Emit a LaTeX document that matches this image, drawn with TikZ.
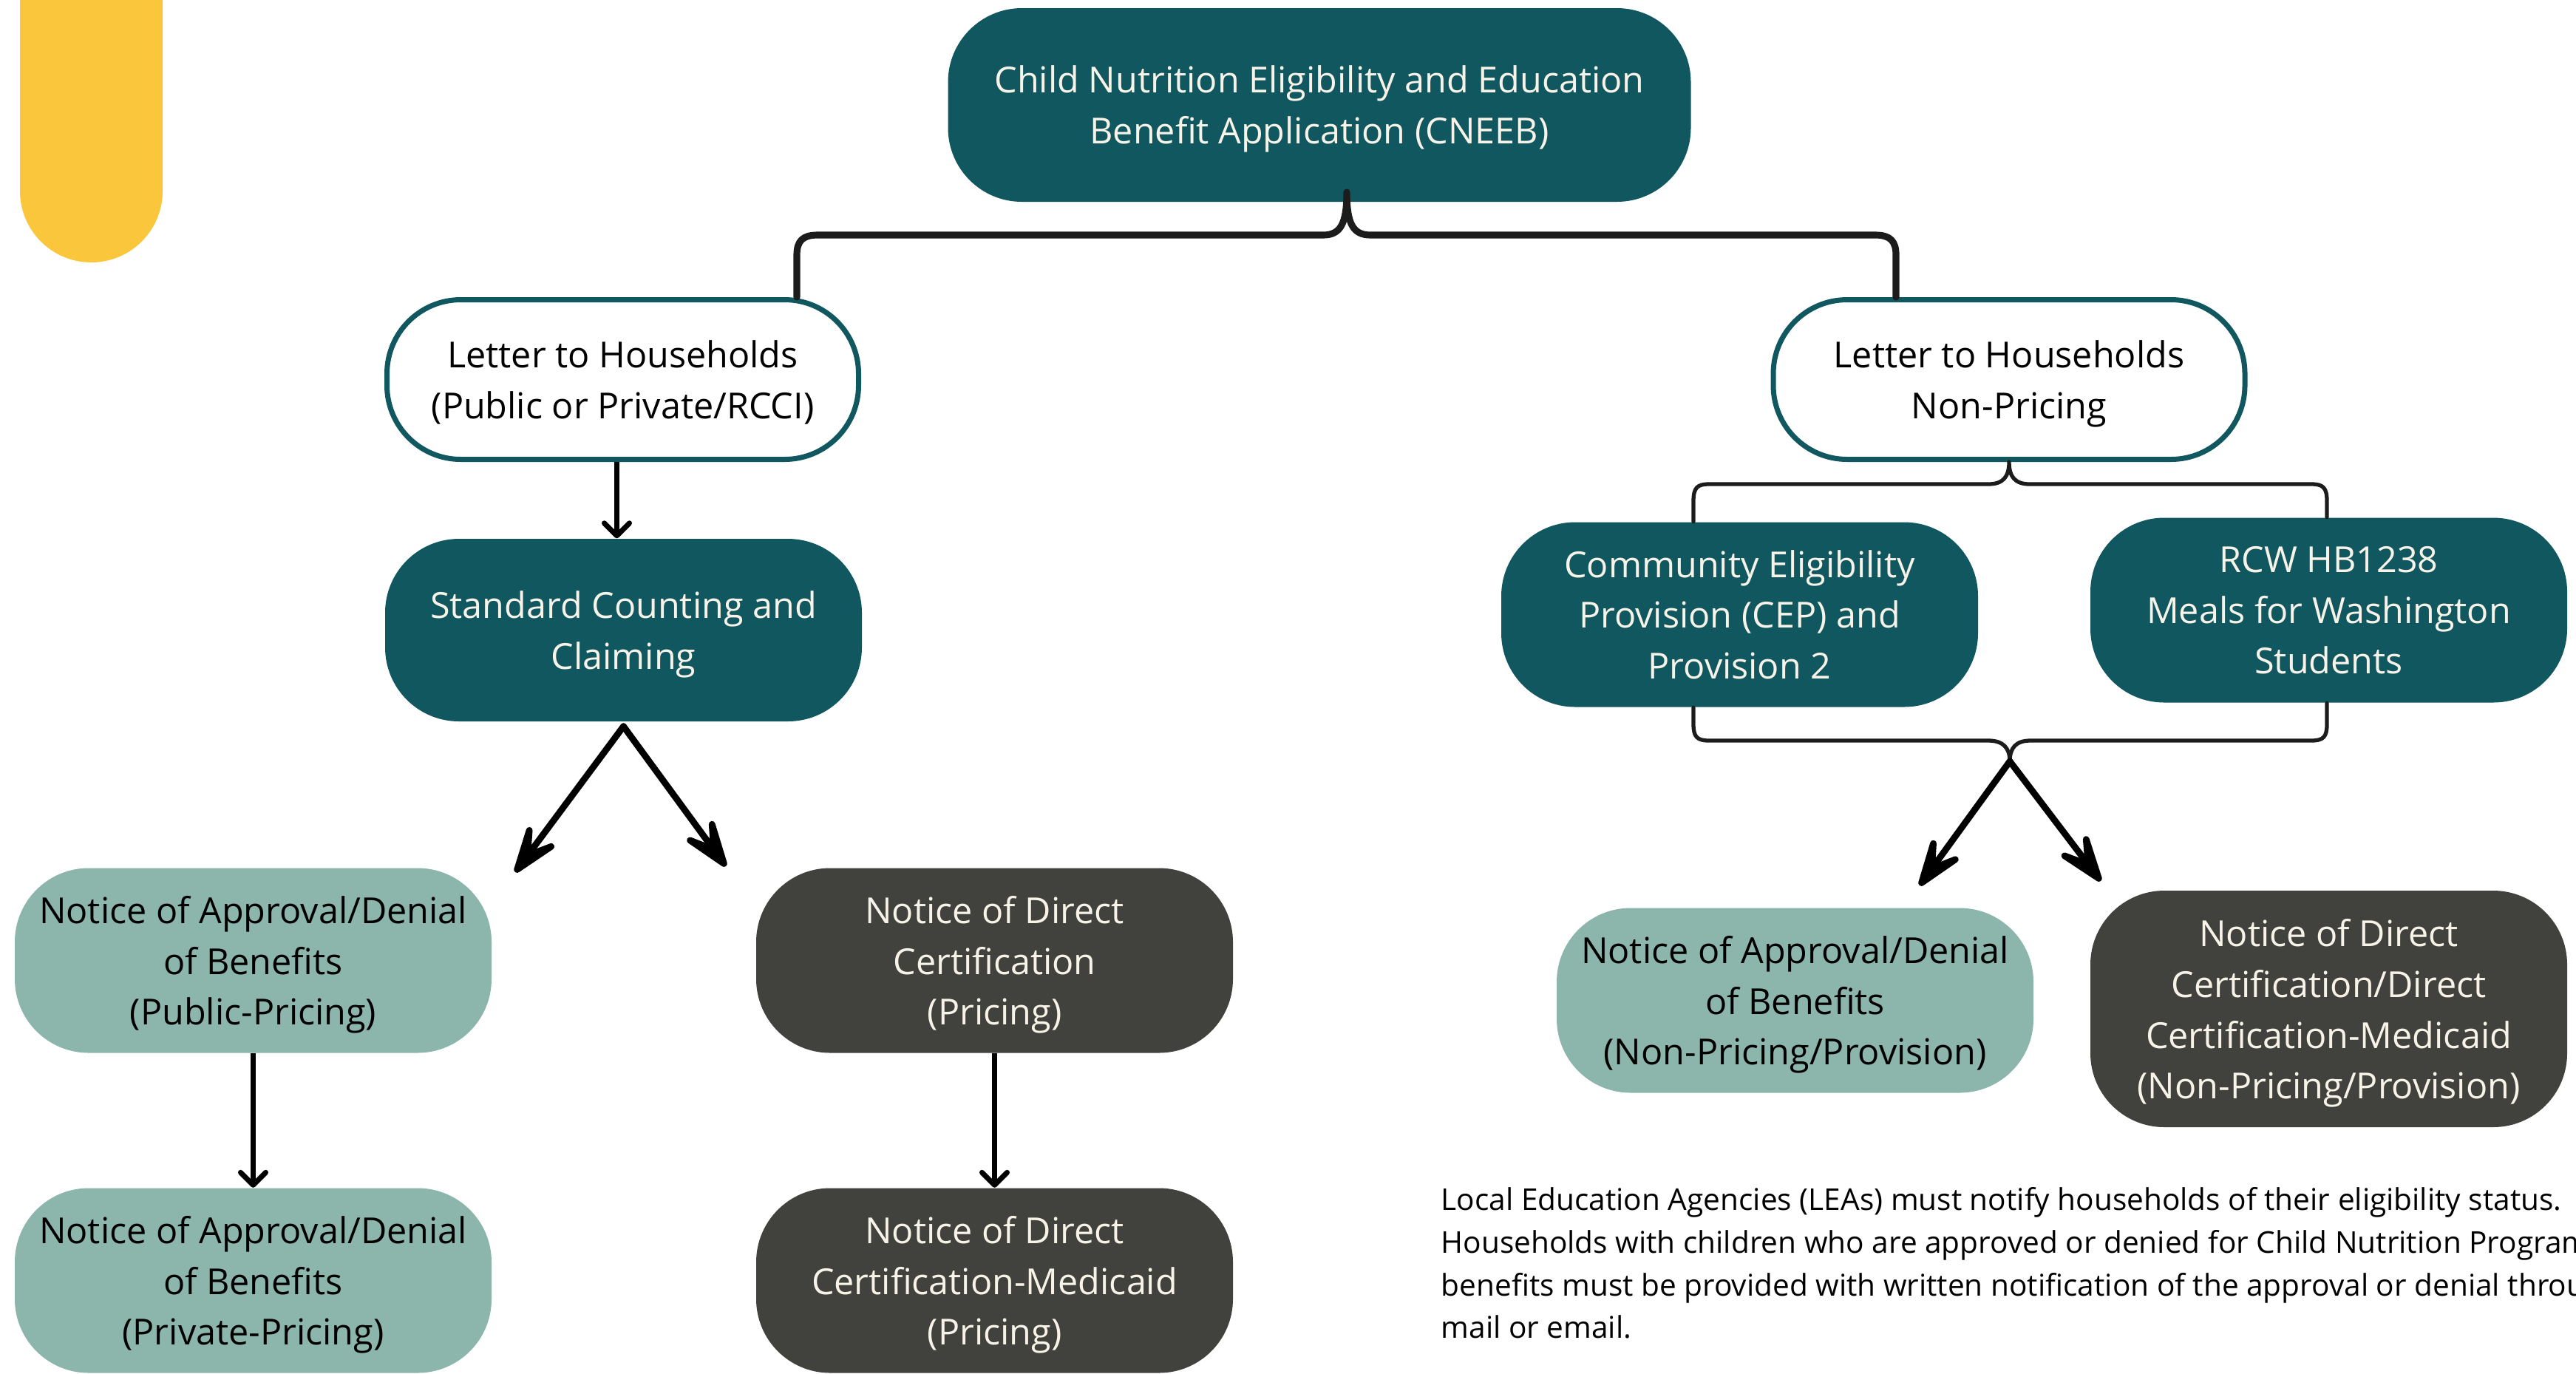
\documentclass[tikz,border=0pt]{standalone}
\usepackage{fontspec}
\setmainfont{Open Sans}
\usetikzlibrary{arrows.meta}
\definecolor{cneebteal}{HTML}{10575F}
\definecolor{sage}{HTML}{8CB5AB}
\definecolor{slate}{HTML}{41423D}
\definecolor{sunyellow}{HTML}{FAC63B}
\definecolor{cream}{HTML}{F7F3E8}
\definecolor{inkline}{HTML}{1C1C1C}
\newcommand{\boxr}{1cm}
\newcommand{\boxw}{6.45cm}
\newcommand{\boxh}{2.5cm}

\begin{document}
\begin{tikzpicture}
    \tikzset{
        box/.style = {rounded corners=\boxr, minimum width=\boxw, minimum height=\boxh, inner sep=0pt,
            align=center, font={\fontsize{13.8}{19.6}\selectfont}, text depth=0pt},
        tealbox/.style = {box, fill=cneebteal, text=cream},
        letterbox/.style = {box, draw=cneebteal, fill=white, line width=0.07cm, text=black,
            minimum width=6.38cm, minimum height=2.16cm},
        sagebox/.style = {box, fill=sage, text=black},
        slatebox/.style = {box, fill=slate, text=cream},
        forkline/.style = {draw=inkline, line width=1.5pt, line cap=round, line join=round},
        splitarrow/.style = {line width=2.5pt, line cap=round,
            -{Stealth[length=1cm, width=0.7cm, inset=0.55cm, round]}},
        downarrow/.style = {line width=2pt, -{Straight Barb[length=0.17cm, width=0.34cm, round]}},
        notetext/.style = {align=left, inner sep=0pt, font={\fontsize{11.55}{16.4}\selectfont}}
    }
    \useasboundingbox (0,0) rectangle (34.85,-18.58);

    % yellow tab
    \fill[sunyellow] (0.27,0) -- (0.27,-2.585) arc[start angle=180, end angle=360, radius=0.965] -- (2.2,0) -- cycle;

    % boxes
    \node[tealbox, minimum width=10.05cm, minimum height=2.62cm] (cneeb) at (17.85,-1.42)
        {Child Nutrition Eligibility and Education\\Benefit Application (CNEEB)};
    \node[letterbox] (letL) at (8.425,-5.135) {Letter to Households\\(Public or Private/RCCI)};
    \node[letterbox] (letR) at (27.18,-5.135) {Letter to Households\\Non-Pricing};
    \node[tealbox, minimum height=2.47cm] (scc) at (8.435,-8.525) {Standard Counting and\\Claiming};
    \node[tealbox] (cep) at (23.535,-8.315) {Community Eligibility\\Provision (CEP) and\\Provision 2};
    \node[tealbox] (rcw) at (31.505,-8.255) {RCW HB1238\\Meals for Washington\\Students};
    \node[sagebox] (napub) at (3.425,-12.995) {Notice of Approval/Denial\\of Benefits\\(Public-Pricing)};
    \node[slatebox] (ndirp) at (13.455,-12.995) {Notice of Direct\\Certification\\(Pricing)};
    \node[sagebox] (napriv) at (3.425,-17.325) {Notice of Approval/Denial\\of Benefits\\(Private-Pricing)};
    \node[slatebox] (nmed) at (13.455,-17.325) {Notice of Direct\\Certification-Medicaid\\(Pricing)};
    \node[sagebox] (naprov) at (24.285,-13.535) {Notice of Approval/Denial\\of Benefits\\(Non-Pricing/Provision)};
    \node[slatebox, minimum height=3.2cm] (ndirprov) at (31.505,-13.65)
        {Notice of Direct\\Certification/Direct\\Certification-Medicaid\\(Non-Pricing/Provision)};

    % forks
    \coordinate (cneebfork) at (18.22,-2.6);
    \coordinate (provfork) at (27.19,-10.3);
    \draw[forkline, line width=2.6pt] ([xshift=2.355cm]letL.north) -- (10.78,-3.45)
        .. controls (10.78,-3.26) and (10.86,-3.18) .. (11.06,-3.18) -- (17.9,-3.18)
        .. controls (18.14,-3.18) and (18.22,-3.02) .. (cneebfork)
        .. controls (18.22,-3.02) and (18.3,-3.18) .. (18.54,-3.18) -- (25.37,-3.18)
        .. controls (25.57,-3.18) and (25.65,-3.26) .. (25.65,-3.45) -- ([xshift=-1.53cm]letR.north);
    \draw[forkline] ([xshift=-0.625cm]cep.north) -- (22.91,-6.78)
        .. controls (22.91,-6.6) and (22.96,-6.55) .. (23.12,-6.55) -- (26.9,-6.55)
        .. controls (27.1,-6.55) and (27.18,-6.45) .. (letR.south)
        .. controls (27.18,-6.45) and (27.26,-6.55) .. (27.46,-6.55) -- (31.27,-6.55)
        .. controls (31.43,-6.55) and (31.48,-6.6) .. (31.48,-6.78) -- ([xshift=-0.025cm]rcw.north);
    \draw[forkline] ([xshift=-0.625cm]cep.south) -- (22.91,-9.8)
        .. controls (22.91,-9.97) and (22.96,-10.02) .. (23.12,-10.02) -- (26.9,-10.02)
        .. controls (27.1,-10.02) and (27.19,-10.12) .. (provfork)
        .. controls (27.19,-10.12) and (27.27,-10.02) .. (27.47,-10.02) -- (31.27,-10.02)
        .. controls (31.43,-10.02) and (31.48,-9.97) .. (31.48,-9.8) -- ([xshift=-0.025cm]rcw.south);

    % arrows
    \coordinate (sccl) at (6.97,-11.8);
    \coordinate (sccr) at (9.82,-11.72);
    \coordinate (provl) at (25.97,-11.98);
    \coordinate (provr) at (28.42,-11.92);
    \draw[splitarrow] ([yshift=-0.06cm]scc.south) -- (sccl);
    \draw[splitarrow] ([yshift=-0.06cm]scc.south) -- (sccr);
    \draw[splitarrow] (provfork) -- (provl);
    \draw[splitarrow] (provfork) -- (provr);
    \draw[downarrow] ([xshift=-0.08cm]letL.south) -- ([xshift=-0.08cm]letL.south |- scc.north);
    \draw[downarrow] (napub.south) -- (napriv.north);
    \draw[downarrow] (ndirp.south) -- (nmed.north);

    % note
    \node[notetext, anchor=north west] (leanote) at (19.49,-16.06)
        {Local Education Agencies (LEAs) must notify households of their eligibility status.\\
         Households with children who are approved or denied for Child Nutrition Programs\\
         benefits must be provided with written notification of the approval or denial through\\
         mail or email.};
\end{tikzpicture}
\end{document}
